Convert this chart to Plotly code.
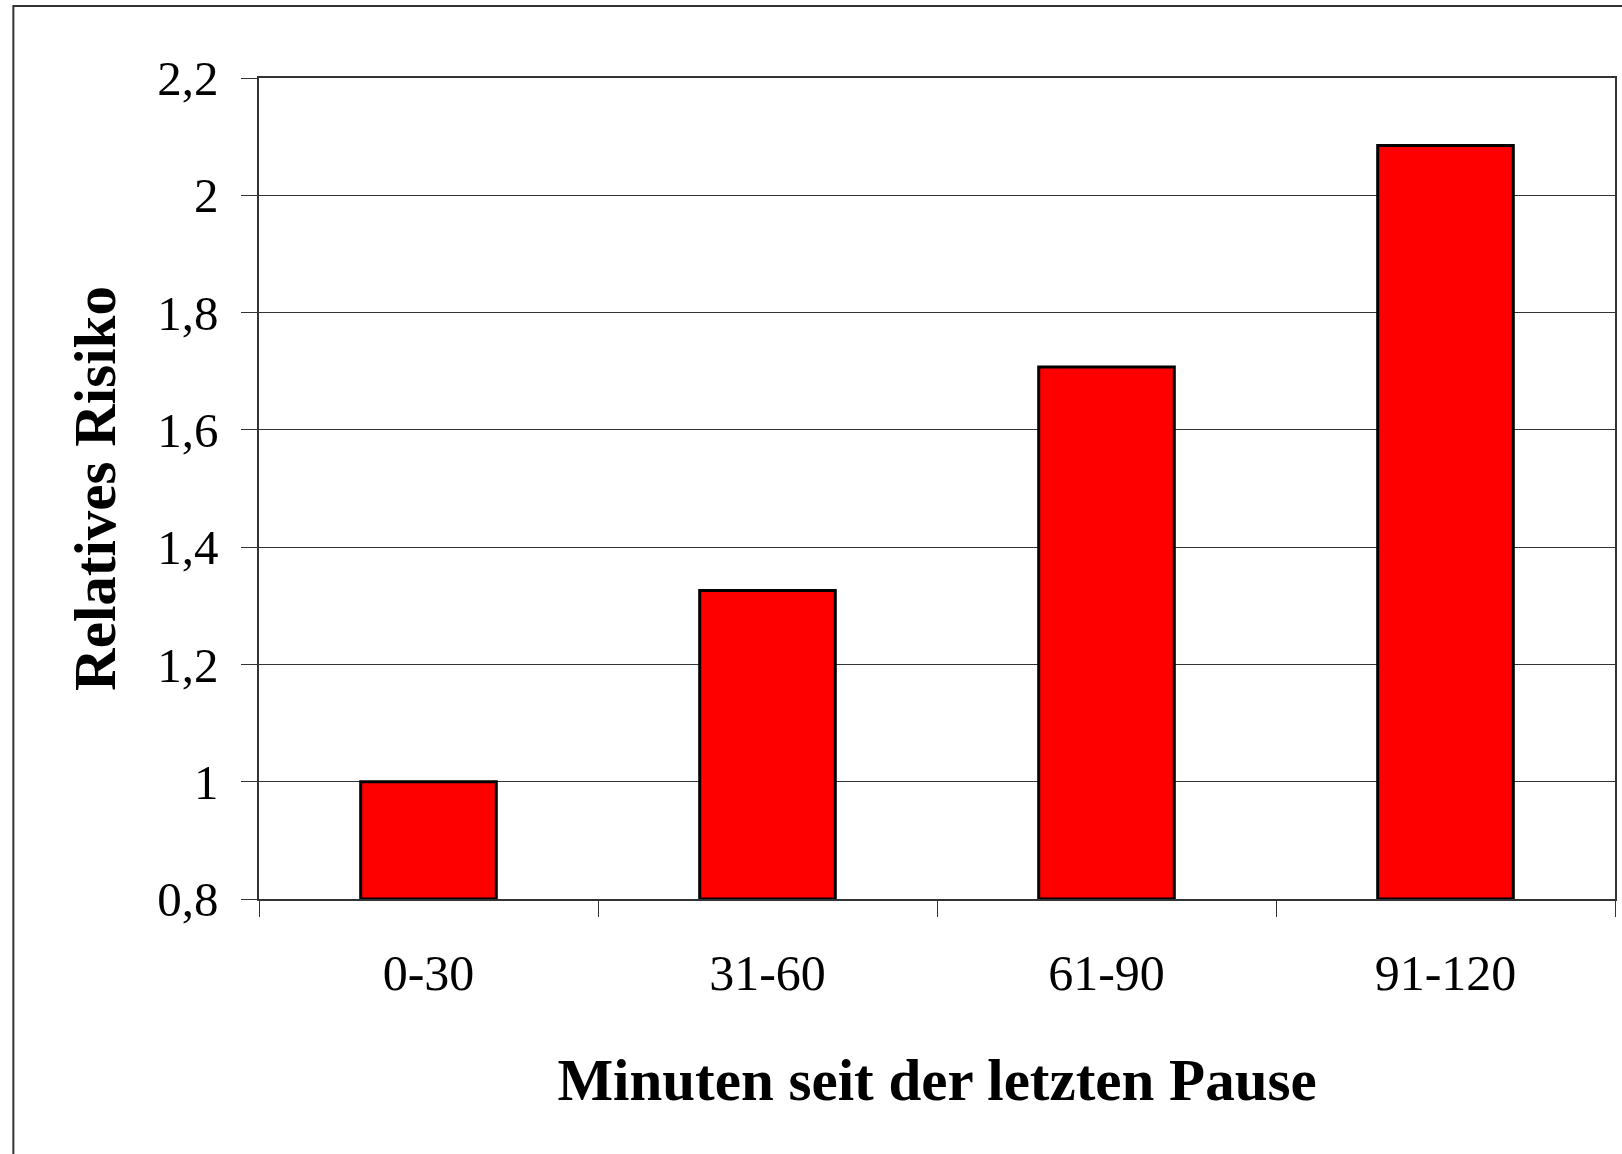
import plotly.graph_objects as go

categories = ["0-30", "31-60", "61-90", "91-120"]
relative_risk = [1.0, 1.326, 1.707, 2.085]
axis_floor = 0.8
y_tick_vals = [0.8, 1.0, 1.2, 1.4, 1.6, 1.8, 2.0, 2.2]
y_tick_text = ["0,8", "1", "1,2", "1,4", "1,6", "1,8", "2", "2,2"]
x_title = "Minuten seit der letzten Pause"
y_title = "Relatives Risiko"

FONT = "Liberation Serif, Times New Roman, serif"
LINE = "#333333"

fig = go.Figure(
    go.Bar(
        x=categories,
        y=[v - axis_floor for v in relative_risk],
        base=axis_floor,
        customdata=relative_risk,
        hovertemplate="%{x}: %{customdata}<extra></extra>",
        width=0.4,
        marker=dict(color="#FF0000", line=dict(color="#000000", width=3)),
    )
)

W, H = 1622, 1154
L, T, R, B = 259, 78, 5, 255
PW = W - L - R
PH = H - T - B

fig.update_layout(
    width=W,
    height=H,
    margin=dict(l=L, r=R, t=T, b=B, pad=0),
    paper_bgcolor="white",
    plot_bgcolor="white",
    showlegend=False,
    font=dict(family=FONT, color="black"),
)

fig.update_xaxes(
    type="category",
    showline=True,
    linecolor=LINE,
    linewidth=1.5,
    mirror=True,
    ticks="outside",
    tickson="boundaries",
    ticklen=16,
    tickwidth=1,
    tickcolor=LINE,
    tickfont=dict(family=FONT, size=50, color="black"),
    ticklabelstandoff=29,
    showgrid=False,
    title=dict(text=f"<b>{x_title}</b>", font=dict(family=FONT, size=59, color="black"), standoff=59),
)

fig.update_yaxes(
    range=[0.8, 2.2],
    tickvals=y_tick_vals,
    ticktext=y_tick_text,
    showline=True,
    linecolor=LINE,
    linewidth=1.5,
    mirror=True,
    ticks="outside",
    ticklen=16,
    tickwidth=1,
    tickcolor=LINE,
    tickfont=dict(family=FONT, size=49, color="black"),
    ticklabelstandoff=13,
    showgrid=True,
    gridcolor=LINE,
    gridwidth=1,
    zeroline=False,
    title=dict(text=f"<b>{y_title}</b>", font=dict(family=FONT, size=59, color="black"), standoff=23),
)

# outer chart-area border (left and top visible in the reference)
fig.add_shape(
    type="rect",
    xref="paper", yref="paper",
    x0=(13 - L) / PW, x1=1.2,
    y0=-0.5, y1=(T + PH - 6) / PH,
    line=dict(color=LINE, width=2),
    fillcolor="rgba(0,0,0,0)",
    layer="below",
)

# remove the browser's default 8px body margin so the figure sits at (0,0)
fig.write_html(
    "out.html",
    config={"displayModeBar": False},
    post_script="document.body.style.margin='0';",
)
